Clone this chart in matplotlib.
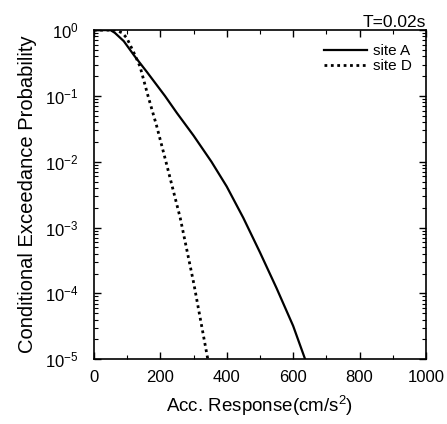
import matplotlib
matplotlib.use("Agg")
import matplotlib.pyplot as plt
from matplotlib.ticker import LogLocator, MultipleLocator, NullFormatter

plt.rcParams['font.family'] = ['Liberation Sans', 'DejaVu Sans']
plt.rcParams['mathtext.fontset'] = 'custom'
plt.rcParams['mathtext.rm'] = 'Liberation Sans'
plt.rcParams['mathtext.it'] = 'Liberation Sans:italic'

# acceleration response (cm/s^2) and conditional exceedance probability
acc_a = [0, 50, 63, 90, 123, 160, 214, 250, 300, 354, 400, 450, 500, 550, 600, 636]
prob_a = [1.0, 1.0, 0.91, 0.68, 0.40, 0.23, 0.1, 0.055, 0.025, 0.01,
          4.2e-3, 1.4e-3, 4.2e-4, 1.2e-4, 3.2e-5, 1e-5]

acc_d = [0, 66, 85, 99, 119, 139, 163, 189, 217, 260, 301, 343]
prob_d = [1.0, 1.0, 0.91, 0.76, 0.47, 0.28, 0.1, 0.035, 0.01, 1.4e-3, 1.4e-4, 1e-5]

fig = plt.figure(figsize=(4.47, 4.24), dpi=100)
ax = fig.add_axes([0.210, 0.153, 0.743, 0.776])

ax.plot(acc_a, prob_a, color='black', lw=1.6, label='site A')
ax.plot(acc_d, prob_d, color='black', lw=2.0, linestyle=(0, (1.0, 1.3)), label='site D')

ax.set_yscale('log')
ax.set_xlim(0, 1000)
ax.set_ylim(1e-5, 1)
ax.xaxis.set_major_locator(MultipleLocator(200))
ax.xaxis.set_minor_locator(MultipleLocator(100))
ax.yaxis.set_major_locator(LogLocator(base=10, numticks=10))
ax.yaxis.set_minor_locator(LogLocator(base=10, subs=range(2, 10), numticks=20))
ax.yaxis.set_minor_formatter(NullFormatter())

ax.tick_params(which='both', direction='in', top=True, right=True, labelsize=12)
ax.tick_params(which='major', length=5, width=1)
ax.tick_params(which='minor', length=3, width=0.8)
ax.tick_params(axis='y', which='major', pad=11)
ax.tick_params(axis='x', which='major', pad=8)
for s in ax.spines.values():
    s.set_linewidth(1.2)

ax.set_xlabel('Acc. Response(cm/s$^2$)', fontsize=13.5, labelpad=6)
ax.set_ylabel('Conditional Exceedance Probability', fontsize=14.5, labelpad=6)
ax.set_title('T=0.02s', loc='right', fontsize=12.5, pad=2)

ax.legend(loc='upper right', frameon=False, fontsize=11, handlelength=2.8,
          handletextpad=0.4, labelspacing=0.1, borderaxespad=0.5)

fig.savefig('out.png', dpi=100)
